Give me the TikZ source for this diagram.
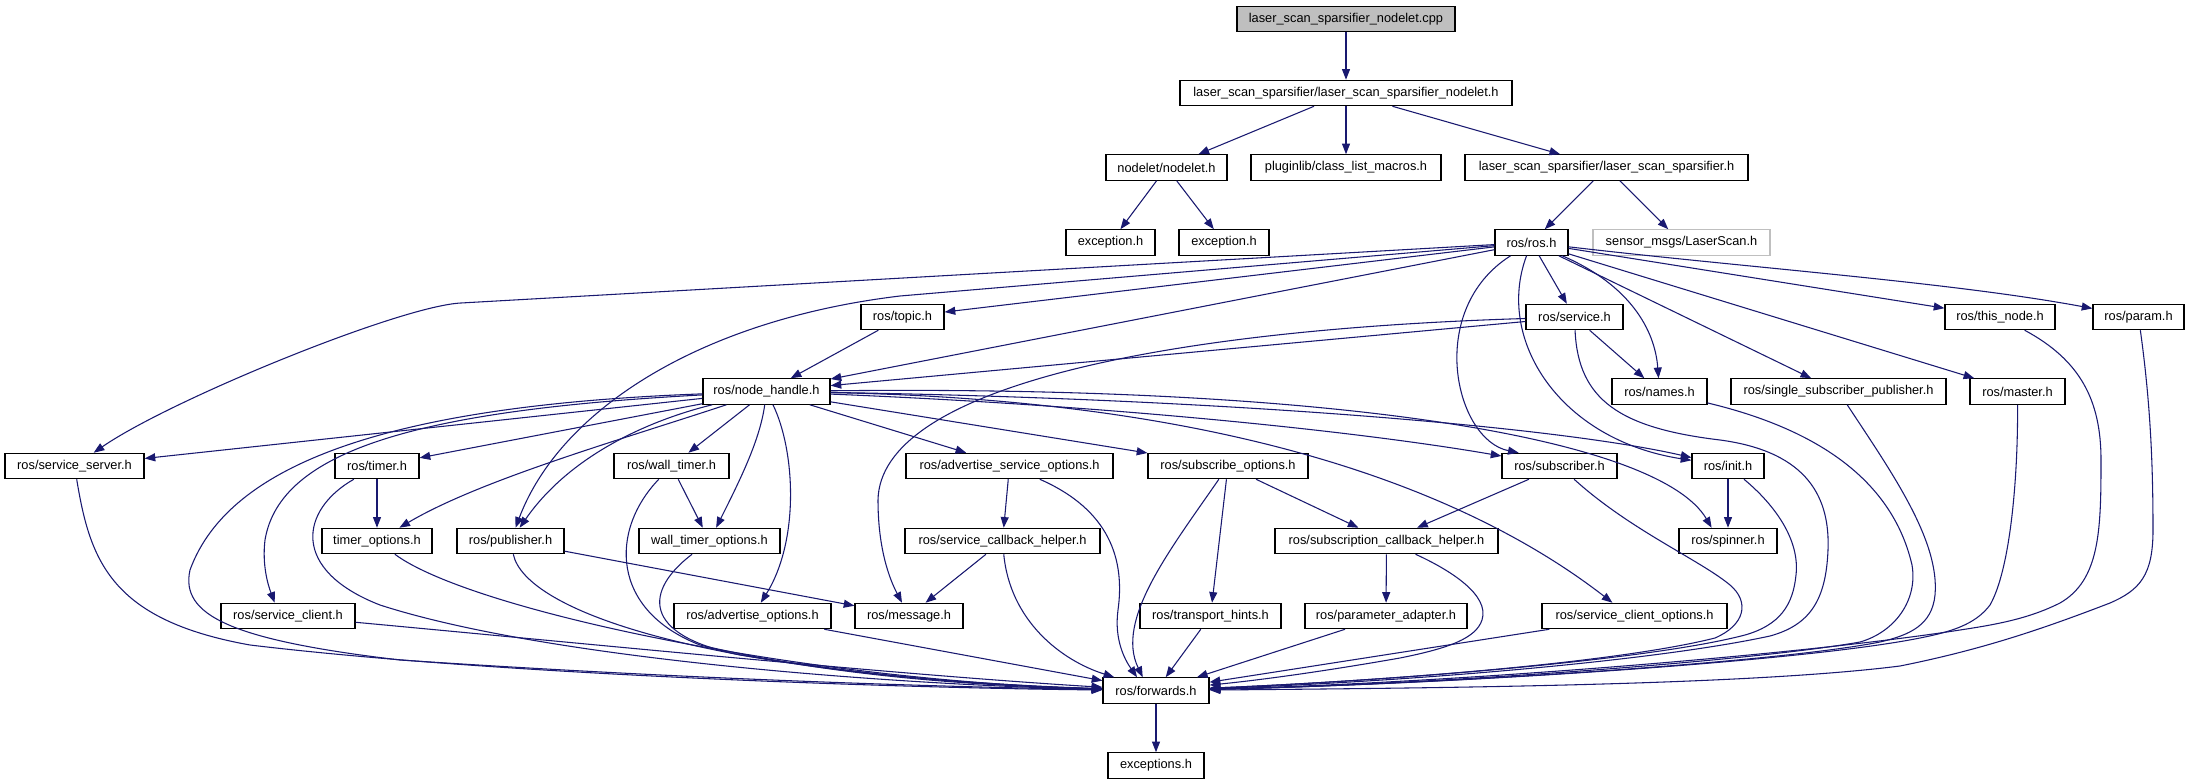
\documentclass[tikz,border=0pt]{standalone}
\usepackage{fontspec}
\setmainfont{Liberation Sans}
\usetikzlibrary{arrows.meta}
\definecolor{edgeblue}{RGB}{25,25,112}
\definecolor{gfill}{RGB}{191,191,191}
\begin{document}
\begin{tikzpicture}[x=0.75pt,y=-0.75pt,
  bx/.style={draw=black, line width=0.9pt, fill=white, minimum width={#1*0.75pt}, minimum height=19pt, inner sep=0pt, font=\fontsize{9.6}{11}\selectfont},
  ed/.style={draw=edgeblue, line width=0.8pt, -{Triangle[length=8pt,width=6pt]}}]
\fill[white] (0,0) rectangle (2189,784);
\useasboundingbox (0,0) rectangle (2189,784);
% row 0-3
\node[bx=218, fill=gfill] (root) at (1346,19) {laser\_scan\_sparsifier\_nodelet.cpp};
\node[bx=332] (lsn) at (1346,93) {laser\_scan\_sparsifier/laser\_scan\_sparsifier\_nodelet.h};
\node[bx=121] (nodelet) at (1166.5,167.5) {nodelet/nodelet.h};
\node[bx=190] (plugin) at (1346,167.5) {pluginlib/class\_list\_macros.h};
\node[bx=283] (lss) at (1606.5,167.5) {laser\_scan\_sparsifier/laser\_scan\_sparsifier.h};
\node[bx=89] (exc1) at (1110.5,242.5) {exception.h};
\node[bx=90] (exc2) at (1224,242.5) {exception.h};
\node[bx=73] (ros) at (1531.5,242.5) {ros/ros.h};
\node[bx=177, draw=gfill] (laser) at (1681.5,242.5) {sensor\_msgs/LaserScan.h};
% row 4
\node[bx=83] (topic) at (902.5,317) {ros/topic.h};
\node[bx=97] (service) at (1574.5,317) {ros/service.h};
\node[bx=110] (thisnode) at (2000,317) {ros/this\_node.h};
\node[bx=91] (param) at (2138.5,317) {ros/param.h};
% row 5
\node[bx=127] (nh) at (766.5,391.5) {ros/node\_handle.h};
\node[bx=95] (names) at (1659.5,391.5) {ros/names.h};
\node[bx=215] (ssp) at (1838.5,391.5) {ros/single\_subscriber\_publisher.h};
\node[bx=95] (master) at (2017.5,391.5) {ros/master.h};
% row 6
\node[bx=139] (ss) at (74.5,466) {ros/service\_server.h};
\node[bx=84] (timer) at (377,466) {ros/timer.h};
\node[bx=115] (wtimer) at (671.5,466) {ros/wall\_timer.h};
\node[bx=207] (aso) at (1009.5,466) {ros/advertise\_service\_options.h};
\node[bx=160] (subo) at (1228,466) {ros/subscribe\_options.h};
\node[bx=115] (sub) at (1559.5,466) {ros/subscriber.h};
\node[bx=72] (init) at (1728,466) {ros/init.h};
% row 7
\node[bx=110] (topt) at (377,541) {timer\_options.h};
\node[bx=107] (pub) at (510.5,541) {ros/publisher.h};
\node[bx=141] (wto) at (709.5,541) {wall\_timer\_options.h};
\node[bx=195] (sch) at (1002.5,541) {ros/service\_callback\_helper.h};
\node[bx=223] (subch) at (1386.5,541) {ros/subscription\_callback\_helper.h};
\node[bx=98] (spinner) at (1728,541) {ros/spinner.h};
% row 8
\node[bx=134] (sc) at (288,616) {ros/service\_client.h};
\node[bx=157] (ao) at (752.5,616) {ros/advertise\_options.h};
\node[bx=108] (msg) at (909,616) {ros/message.h};
\node[bx=141] (th) at (1210.5,616) {ros/transport\_hints.h};
\node[bx=162] (pa) at (1386,616) {ros/parameter\_adapter.h};
\node[bx=185] (sco) at (1634.5,616) {ros/service\_client\_options.h};
% row 9-10
\node[bx=106] (fwd) at (1156,690.5) {ros/forwards.h};
\node[bx=96] (excs) at (1156,765.5) {exceptions.h};

% top part
\draw[ed] (root) -- (lsn);
\draw[ed] (lsn) -- (nodelet);
\draw[ed] (lsn) -- (plugin);
\draw[ed] (lsn) -- (lss);
\draw[ed] (nodelet) -- (exc1);
\draw[ed] (nodelet) -- (exc2);
\draw[ed] (lss) -- (ros);
\draw[ed] (lss) -- (laser);

% ros/ros.h
\draw[ed] (ros) -- (461,303) .. controls (400,306) and (170,400) .. (ss);
\draw[ed] (ros) -- (topic);
\draw[ed] (ros) -- (nh);
\draw[ed] (ros) -- (900,296) .. controls (700,320) and (560,410) .. (pub);
\draw[ed] (ros) -- (service);
\draw[ed] (ros) .. controls (1630,285) and (1655,330) .. (names);
\draw[ed] (ros) -- (ssp);
\draw[ed] (ros) -- (master);
\draw[ed] (ros) -- (thisnode);
\draw[ed] (ros) .. controls (1750,268) and (1950,282) .. (param);
\draw[ed] (ros) .. controls (1425,310) and (1455,440) .. (sub.162);
\draw[ed] (ros) .. controls (1495,340) and (1560,440) .. (init);

% ros/service.h
\draw[ed] (service) -- (nh);
\draw[ed] (service) .. controls (1150,330) and (880,390) .. (878,500) .. controls (878,550) and (890,580) .. (msg);
\draw[ed] (service) -- (names);
\draw[ed] (service) .. controls (1578,400) and (1620,428) .. (1720,440) .. controls (1810,452) and (1830,500) .. (1828,550) .. controls (1826,600) and (1810,625) .. (1770,636) .. controls (1650,662) and (1400,682) .. (fwd);

% ros/topic.h
\draw[ed] (topic) -- (nh);

% ros/node_handle.h
\draw[ed] (nh) -- (ss);
\draw[ed] (nh) -- (timer);
\draw[ed] (nh) .. controls (620,440) and (480,480) .. (topt);
\draw[ed] (nh) -- (wtimer);
\draw[ed] (nh) .. controls (650,420) and (570,455) .. (pub);
\draw[ed] (nh) .. controls (760,440) and (740,480) .. (wto);
\draw[ed] (nh) .. controls (795,450) and (800,540) .. (ao);
\draw[ed] (nh) -- (aso);
\draw[ed] (nh) -- (subo);
\draw[ed] (nh) .. controls (1100,405) and (1350,430) .. (sub);
\draw[ed] (nh) .. controls (1200,398) and (1550,425) .. (init);
\draw[ed] (nh) .. controls (1350,385) and (1660,440) .. (spinner.141);
\draw[ed] (nh) .. controls (1250,400) and (1480,500) .. (sco.149);
\draw[ed] (nh) .. controls (420,410) and (280,450) .. (265,540) .. controls (262,565) and (268,585) .. (sc.135);
\draw[ed] (nh) .. controls (400,405) and (230,460) .. (190,570) .. controls (180,615) and (230,640) .. (400,660) .. controls (700,680) and (950,687) .. (fwd);

% middle rows
\draw[ed] (timer) -- (topt);
\draw[ed] (wtimer) -- (wto);
\draw[ed] (aso) -- (sch);
\draw[ed] (subo) -- (th);
\draw[ed] (subo) -- (subch);
\draw[ed] (sub) -- (subch);
\draw[ed] (init) -- (spinner);
\draw[ed] (pub) -- (msg);
\draw[ed] (sch) -- (msg);
\draw[ed] (subch) -- (pa);

% into ros/forwards.h from the left
\draw[ed] (ss) .. controls (90,560) and (110,620) .. (250,645) .. controls (500,675) and (900,688) .. (fwd);
\draw[ed] (sc) .. controls (600,645) and (900,675) .. (fwd);
\draw[ed] (timer) .. controls (300,510) and (290,570) .. (380,605) .. controls (550,660) and (900,685) .. (fwd);
\draw[ed] (topt) .. controls (470,610) and (800,680) .. (fwd);
\draw[ed] (pub) .. controls (525,610) and (700,675) .. (fwd);
\draw[ed] (wtimer) .. controls (610,530) and (610,610) .. (700,645) .. controls (850,680) and (1000,686) .. (fwd);
\draw[ed] (wto) .. controls (645,590) and (640,635) .. (740,655) .. controls (900,680) and (1000,686) .. (fwd);
\draw[ed] (ao) -- (fwd);
\draw[ed] (sch) .. controls (1010,620) and (1060,660) .. (fwd);
\draw[ed] (aso) .. controls (1110,510) and (1125,560) .. (1118,610) .. controls (1114,640) and (1125,660) .. (fwd.145);
\draw[ed] (subo) .. controls (1170,550) and (1115,620) .. (fwd.135);
\draw[ed] (th) -- (fwd);
\draw[ed] (pa) -- (fwd);

% into ros/forwards.h from the right
\draw[ed] (subch) .. controls (1450,570) and (1490,595) .. (1482,620) .. controls (1476,638) and (1450,648) .. (1400,658) .. controls (1320,672) and (1260,680) .. (fwd);
\draw[ed] (sco) -- (fwd);
\draw[ed] (sub) .. controls (1630,530) and (1700,560) .. (1730,585) .. controls (1750,602) and (1745,625) .. (1715,638) .. controls (1620,662) and (1400,680) .. (fwd);
\draw[ed] (init) .. controls (1775,505) and (1800,540) .. (1796,575) .. controls (1793,605) and (1780,625) .. (1745,635) .. controls (1650,660) and (1400,680) .. (fwd);
\draw[ed] (names) .. controls (1800,425) and (1890,470) .. (1912,565) .. controls (1918,600) and (1895,632) .. (1860,642) .. controls (1760,660) and (1450,684) .. (fwd);
\draw[ed] (ssp) .. controls (1890,470) and (1940,540) .. (1935,595) .. controls (1932,625) and (1910,635) .. (1880,642) .. controls (1780,662) and (1450,684) .. (fwd);
\draw[ed] (master) .. controls (2018,480) and (2010,570) .. (1990,605) .. controls (1975,625) and (1950,632) .. (1920,638) .. controls (1800,662) and (1450,684) .. (fwd);
\draw[ed] (thisnode) .. controls (2080,360) and (2101,400) .. (2101,460) .. controls (2101,530) and (2100,580) .. (2060,603) .. controls (2030,618) and (2000,624) .. (1960,630) .. controls (1800,655) and (1450,683) .. (fwd);
\draw[ed] (param) .. controls (2150,400) and (2153,460) .. (2153,530) .. controls (2153,575) and (2140,590) .. (2110,603) .. controls (2040,630) and (1980,650) .. (1900,666) .. controls (1750,685) and (1450,688) .. (fwd);

% bottom
\draw[ed] (fwd) -- (excs);
\end{tikzpicture}
\end{document}
